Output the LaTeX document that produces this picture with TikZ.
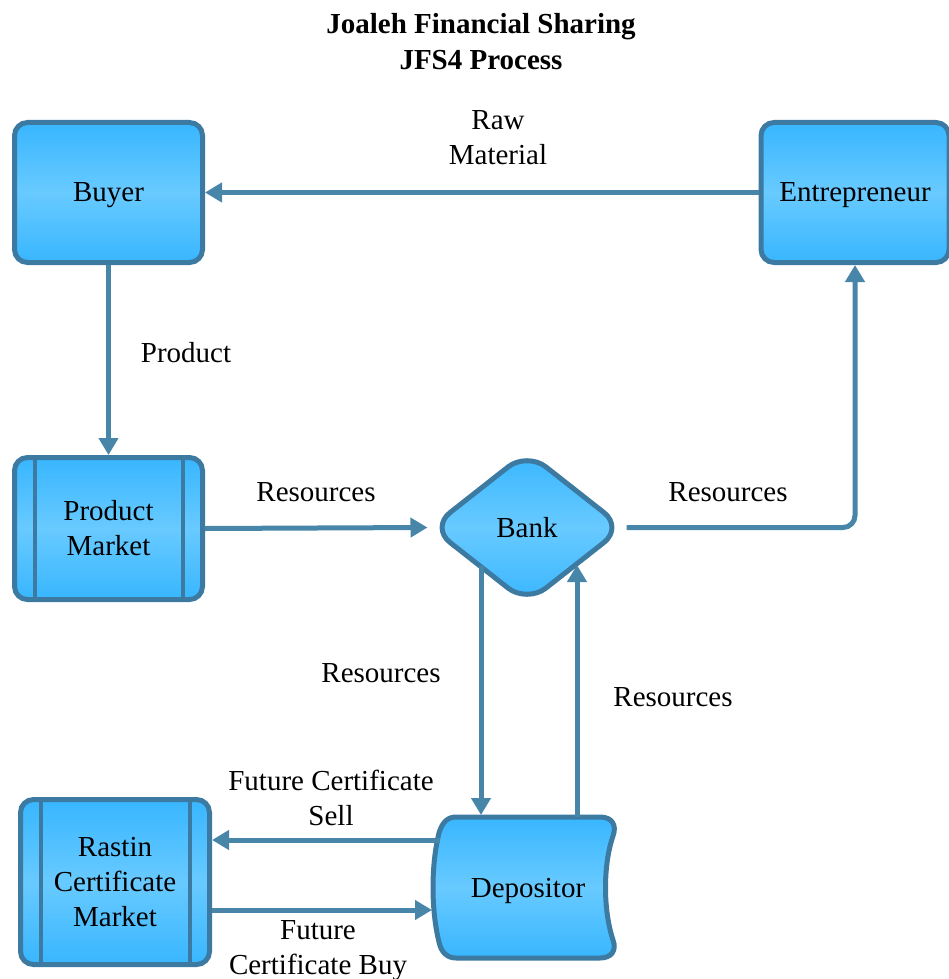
\documentclass[tikz,border=0pt]{standalone}
\usepackage{fontspec}
\setmainfont{Liberation Serif}
\usetikzlibrary{arrows.meta,shapes.geometric}
\definecolor{edgeblue}{RGB}{60,122,162}
\definecolor{connblue}{RGB}{72,134,169}
\definecolor{ftop}{RGB}{56,182,255}
\definecolor{fmid}{RGB}{104,202,255}
\newcommand\lblfont{\fontsize{29}{35}\selectfont}
\begin{document}
\begin{tikzpicture}[x=1pt,y=-1pt,
  fillshade/.style={top color=ftop, bottom color=ftop, middle color=fmid},
  boxnode/.style={draw=edgeblue, line width=5pt, rounded corners=13pt, fillshade,
    minimum width=188pt, minimum height=140pt, inner sep=0pt, align=center, font=\lblfont},
  innerline/.style={draw=edgeblue, line width=4.5pt},
  conn/.style={draw=connblue, line width=5pt, -{Triangle[width=19pt,length=17pt]}},
  lbl/.style={align=center, font=\lblfont, inner sep=0pt},
  ]
\useasboundingbox (0,0) rectangle (948,979);

% title
\node[lbl, font=\fontsize{29}{36}\selectfont\bfseries] (title) at (481,42) {Joaleh Financial Sharing\\JFS4 Process};

% nodes
\node[boxnode, text depth=0pt] (buyer) at (108.5,192.5) {Buyer};
\node[boxnode, text depth=0pt] (ent) at (855,192.5) {Entrepreneur};
\node[boxnode, minimum height=142pt] (pm) at (108.5,528.5) {Product\\Market};
\node[boxnode, minimum width=189pt, minimum height=165pt] (rcm) at (115,882) {Rastin\\Certificate\\Market};
\draw[innerline] ([xshift=23pt]pm.north west) -- ([xshift=23pt]pm.south west);
\draw[innerline] ([xshift=-22pt]pm.north east) -- ([xshift=-22pt]pm.south east);
\draw[innerline] ([xshift=23pt]rcm.north west) -- ([xshift=23pt]rcm.south west);
\draw[innerline] ([xshift=-22pt]rcm.north east) -- ([xshift=-22pt]rcm.south east);

\node[diamond, draw=edgeblue, line width=5pt, rounded corners=24pt, fillshade,
  minimum width=194pt, minimum height=153pt, inner sep=0pt, font=\lblfont] (bank) at (527,527.5) {Bank};

% depositor shape
\path[draw=edgeblue, line width=5pt, fillshade]
  (456,817) -- (600,817) .. controls (612,817) and (617,825) .. (613,836)
  .. controls (603,865) and (603,910) .. (613,940)
  .. controls (617,951) and (611,958) .. (600,958) -- (456,958)
  .. controls (447,958) and (441,952) .. (439,942)
  .. controls (431,910) and (431,865) .. (439,833)
  .. controls (442,823) and (447,817) .. (456,817) -- cycle;
\node[lbl, text depth=0pt] (dep) at (528,888) {Depositor};

% connector end points
\coordinate (bankL) at (481,566);
\coordinate (bankR) at (577,565);
\coordinate (depT1) at (481,815);
\coordinate (depT2) at (577,817);
\coordinate (depL1) at (440,840);
\coordinate (depL2) at (432,910);

% connectors
\draw[conn] (ent.west) -- (buyer.east);
\draw[conn] (buyer.south) -- (pm.north);
\draw[conn] (pm.east) -- (bank.west);
\draw[conn, rounded corners=12pt] (bank.east) -| (ent.south);
\draw[conn] (bankL) -- (depT1);
\draw[conn] (depT2) -- (bankR);
\draw[conn] (depL1) -- (depL1 -| rcm.east);
\draw[conn] (rcm.east |- depL2) -- (depL2);

% labels
\node[lbl] (lraw) at (498,138) {Raw\\Material};
\node[lbl] (lprod) at (186,353) {Product};
\node[lbl] (lr1) at (316,492) {Resources};
\node[lbl] (lr2) at (728,492) {Resources};
\node[lbl] (lr3) at (381,673) {Resources};
\node[lbl] (lr4) at (673,697) {Resources};
\node[lbl] (lsell) at (331,798) {Future Certificate\\Sell};
\node[lbl, text depth=0pt] (lbuy) at (318,947) {Future\\Certificate Buy};
\end{tikzpicture}
\end{document}
